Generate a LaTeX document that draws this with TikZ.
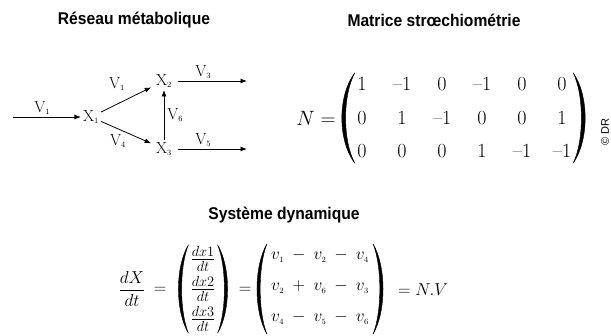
\documentclass[tikz,border=0pt]{standalone}
\usepackage{amsmath}
\usepackage{fontspec}
\newfontfamily\headfont[FakeStretch=0.92]{Liberation Sans}
\newfontfamily\creditfont{Liberation Sans}
\usetikzlibrary{positioning,arrows.meta,matrix,calc}
% parenthese pleine : haut, bas, bombement, epaisseur
\newcommand\drawparen[4]{%
  \filldraw[line width=0.4pt] #1 .. controls ($#1!0.25!#2+({1.33*(#3)},0)$) and ($#1!0.75!#2+({1.33*(#3)},0)$) .. #2
    .. controls ($#1!0.75!#2+({1.33*(#3)-1.33*(#4)},0)$) and ($#1!0.25!#2+({1.33*(#3)-1.33*(#4)},0)$) .. cycle;}

\begin{document}
\begin{tikzpicture}[x=1pt,y=-1pt,
  heading/.style={font=\headfont\bfseries\fontsize{17}{20}\selectfont},
  spec/.style={font=\fontsize{16}{18}\selectfont,inner sep=2pt},
  lab/.style={font=\fontsize{16}{18}\selectfont,inner sep=1pt},
  flux/.style={-{Latex[length=6.5pt,width=5pt]},line width=0.8pt},
  eqn/.style={font=\fontsize{19}{22}\selectfont,inner sep=1pt}]
  \useasboundingbox (0,0) rectangle (611,336);

  % titres
  \node[heading] (tres) at (134,20) {Réseau métabolique};
  \node[heading] (tmat) at (434,20) {Matrice strœchiométrie};
  \node[heading] (tsys) at (284,215) {Système dynamique};

  % reseau
  \coordinate (in) at (13,117);
  \node[spec] (x1) at (91,117) {X$_{\scriptscriptstyle 1}$};
  \node[spec] (x2) at (164,81) {X$_{\scriptscriptstyle 2}$};
  \node[spec] (x3) at (164,149) {X$_{\scriptscriptstyle 3}$};
  \coordinate (out3) at (247,81);
  \coordinate (out5) at (247,149);
  \draw[flux] (in) -- node[lab,above=1pt,pos=0.43] (lv1) {V$_{\scriptscriptstyle 1}$} (x1);
  \draw[flux,shorten >=3pt] (x1) -- node[lab,above=12pt,pos=0.3] (lv2) {V$_{\scriptscriptstyle 1}$} (x2);
  \draw[flux,shorten >=3pt] (x1) -- node[lab,below=4pt,pos=0.32] (lv4) {V$_{\scriptscriptstyle 4}$} (x3);
  \draw[flux] (x3) -- node[lab,right=2pt] (lv6) {V$_{\scriptscriptstyle 6}$} (x2);
  \draw[flux,shorten <=4pt] (x2) -- node[lab,above=1pt,pos=0.4] (lv3) {V$_{\scriptscriptstyle 3}$} (out3);
  \draw[flux,shorten <=4pt] (x3) -- node[lab,above=1pt,pos=0.4] (lv5) {V$_{\scriptscriptstyle 5}$} (out5);

  % matrice N
  \node[eqn,font=\fontsize{21}{24}\selectfont] (nlbl) at (316,118) {$N =$};
  \matrix (nmat) [matrix of nodes,
    font=\fontsize{20}{24}\selectfont,
    nodes={text height=13pt,text depth=0pt,inner sep=0pt,minimum width=20pt},
    column sep=20pt,row sep=20.5pt,inner sep=4pt] at (462,118) {
    1 & –1 & 0 & –1 & 0 & 0 \\
    0 & 1 & –1 & 0 & 0 & 1 \\
    0 & 0 & 0 & 1 & –1 & –1 \\
  };
  \coordinate (nl1) at ($(nmat.north west)+(7,-1)$);
  \coordinate (nl2) at ($(nmat.south west)+(7,1)$);
  \coordinate (nr1) at ($(nmat.north east)+(-3,-1)$);
  \coordinate (nr2) at ($(nmat.south east)+(-3,1)$);
  \drawparen{(nl1)}{(nl2)}{-13}{-3.8}
  \drawparen{(nr1)}{(nr2)}{12}{3.8}
  \node[font=\creditfont\fontsize{11}{13}\selectfont,rotate=90] (credit) at (605,132) {© DR};

  % systeme dynamique
  \node[eqn] (dxdt) at (132,289) {$\displaystyle\frac{dX}{dt}$};
  \node[eqn] (eq1) at (160,290) {$=$};
  \matrix (fmat) [matrix of math nodes,
    font=\fontsize{22}{26}\selectfont,
    nodes={inner sep=0pt},row sep=5pt,inner sep=0pt] at (203,289) {
    \frac{dx1}{dt} \\
    \frac{dx2}{dt} \\
    \frac{dx3}{dt} \\
  };
  \coordinate (fl1) at ($(fmat.north west)+(-2,-1)$);
  \coordinate (fl2) at ($(fmat.south west)+(-2,1)$);
  \coordinate (fr1) at ($(fmat.north east)+(2,-1)$);
  \coordinate (fr2) at ($(fmat.south east)+(2,1)$);
  \drawparen{(fl1)}{(fl2)}{-10}{-3.2}
  \drawparen{(fr1)}{(fr2)}{10}{3.2}
  \node[eqn] (eq2) at (245,290) {$=$};
  \matrix (vmat) [matrix of math nodes,
    font=\fontsize{16}{19}\selectfont,
    nodes={text height=8pt,text depth=4pt,inner sep=0pt},
    column sep=8pt,row sep=19pt,inner sep=6pt] at (320,289) {
    v_{\scriptscriptstyle 1} & - & v_{\scriptscriptstyle 2} & - & v_{\scriptscriptstyle 4} \\
    v_{\scriptscriptstyle 2} & + & v_{\scriptscriptstyle 6} & - & v_{\scriptscriptstyle 3} \\
    v_{\scriptscriptstyle 4} & - & v_{\scriptscriptstyle 5} & - & v_{\scriptscriptstyle 6} \\
  };
  \coordinate (vl1) at ($(vmat.north west)+(2,-2)$);
  \coordinate (vl2) at ($(vmat.south west)+(2,2)$);
  \coordinate (vr1) at ($(vmat.north east)+(-2,-2)$);
  \coordinate (vr2) at ($(vmat.south east)+(-2,2)$);
  \drawparen{(vl1)}{(vl2)}{-10}{-3.2}
  \drawparen{(vr1)}{(vr2)}{10}{3.2}
  \node[eqn,font=\fontsize{18}{22}\selectfont] (nv) at (423,290) {$= N.V$};
\end{tikzpicture}
\end{document}
